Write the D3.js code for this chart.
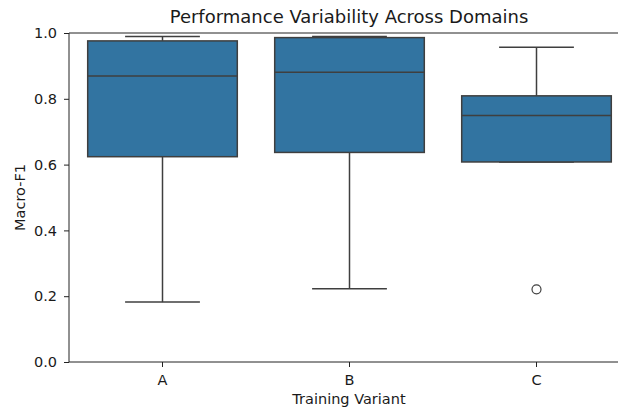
<!DOCTYPE html>
<html>
<head>
<meta charset="utf-8">
<script src="https://cdn.jsdelivr.net/npm/d3@7"></script>
<style>
  html, body { margin: 0; padding: 0; background: #fff; }
  svg { display: block; font-family: "DejaVu Sans", sans-serif; }
</style>
</head>
<body>
<svg id="chart" width="618" height="410"></svg>
<script>
// Box summaries per training variant
const categories = ["A", "B", "C"];
const q1Values = [0.624, 0.637, 0.608];
const medianValues = [0.869, 0.881, 0.749];
const q3Values = [0.976, 0.986, 0.809];
const whiskerLow = [0.182, 0.223, 0.608];
const whiskerHigh = [0.989, 0.989, 0.957];
const outliers = [[], [], [0.221]];
const yTicks = [0.0, 0.2, 0.4, 0.6, 0.8, 1.0];

const svg = d3.select("#chart");
const margin = { left: 69, top: 33, bottom: 362 };
const step = 187;
const plotRight = margin.left + step * categories.length;

const x = d3.scaleBand().domain(categories).range([margin.left, plotRight]).paddingInner(0).paddingOuter(0);
const y = d3.scaleLinear().domain([0, 1]).range([margin.bottom, margin.top]);

const boxColor = "#3274a1";
const lineColor = "#3f3f3f";
const textColor = "#1a1a1a";
const boxW = x.bandwidth() * 0.8;
const capW = x.bandwidth() * 0.4;

const g = svg.append("g");

categories.forEach((c, i) => {
  const cx = x(c) + x.bandwidth() / 2;
  const bg = g.append("g");
  // whiskers
  bg.append("line").attr("x1", cx).attr("x2", cx)
    .attr("y1", y(q3Values[i])).attr("y2", y(whiskerHigh[i]))
    .attr("stroke", lineColor).attr("stroke-width", 1.5);
  bg.append("line").attr("x1", cx).attr("x2", cx)
    .attr("y1", y(q1Values[i])).attr("y2", y(whiskerLow[i]))
    .attr("stroke", lineColor).attr("stroke-width", 1.5);
  // caps
  [whiskerHigh[i], whiskerLow[i]].forEach(v => {
    bg.append("line").attr("x1", cx - capW / 2).attr("x2", cx + capW / 2)
      .attr("y1", y(v)).attr("y2", y(v))
      .attr("stroke", lineColor).attr("stroke-width", 1.5);
  });
  // box
  bg.append("rect")
    .attr("x", cx - boxW / 2).attr("width", boxW)
    .attr("y", y(q3Values[i])).attr("height", y(q1Values[i]) - y(q3Values[i]))
    .attr("fill", boxColor).attr("stroke", lineColor).attr("stroke-width", 1.5);
  // median
  bg.append("line").attr("x1", cx - boxW / 2).attr("x2", cx + boxW / 2)
    .attr("y1", y(medianValues[i])).attr("y2", y(medianValues[i]))
    .attr("stroke", lineColor).attr("stroke-width", 1.5);
  // outliers
  outliers[i].forEach(v => {
    bg.append("circle").attr("cx", cx).attr("cy", y(v)).attr("r", 4.5)
      .attr("fill", "none").attr("stroke", lineColor).attr("stroke-width", 1.2);
  });
});

// top and right spines
svg.append("line").attr("x1", margin.left).attr("x2", plotRight).attr("y1", margin.top).attr("y2", margin.top)
  .attr("stroke", "#222").attr("stroke-width", 1);
svg.append("line").attr("x1", plotRight).attr("x2", plotRight).attr("y1", margin.top).attr("y2", margin.bottom)
  .attr("stroke", "#222").attr("stroke-width", 1);

// axes
const yAxis = svg.append("g").attr("transform", `translate(${margin.left},0)`)
  .call(d3.axisLeft(y).tickValues(yTicks).tickFormat(d3.format(".1f")).tickSize(5).tickPadding(7));
const xAxis = svg.append("g").attr("transform", `translate(0,${margin.bottom})`)
  .call(d3.axisBottom(x).tickSize(5).tickPadding(8));
[yAxis, xAxis].forEach(a => {
  a.select(".domain").attr("stroke", "#222").attr("stroke-width", 1);
  a.selectAll(".tick line").attr("stroke", "#222").attr("stroke-width", 1);
  a.selectAll(".tick text").attr("fill", textColor).style("font-size", "14.5px").style("font-family", "DejaVu Sans");
});
yAxis.select(".domain").attr("d", `M0,${margin.bottom}V${margin.top}`);
xAxis.select(".domain").attr("d", `M${margin.left},0H${plotRight}`);

// labels
svg.append("text").attr("x", 349).attr("y", 23).attr("text-anchor", "middle")
  .style("font-size", "18px").attr("fill", textColor).text("Performance Variability Across Domains");
svg.append("text").attr("x", 349).attr("y", 404).attr("text-anchor", "middle")
  .style("font-size", "14.5px").attr("fill", textColor).text("Training Variant");
svg.append("text").attr("transform", `translate(25,${(margin.top + margin.bottom) / 2}) rotate(-90)`)
  .attr("text-anchor", "middle").style("font-size", "14.5px").attr("fill", textColor).text("Macro-F1");
</script>
</body>
</html>
